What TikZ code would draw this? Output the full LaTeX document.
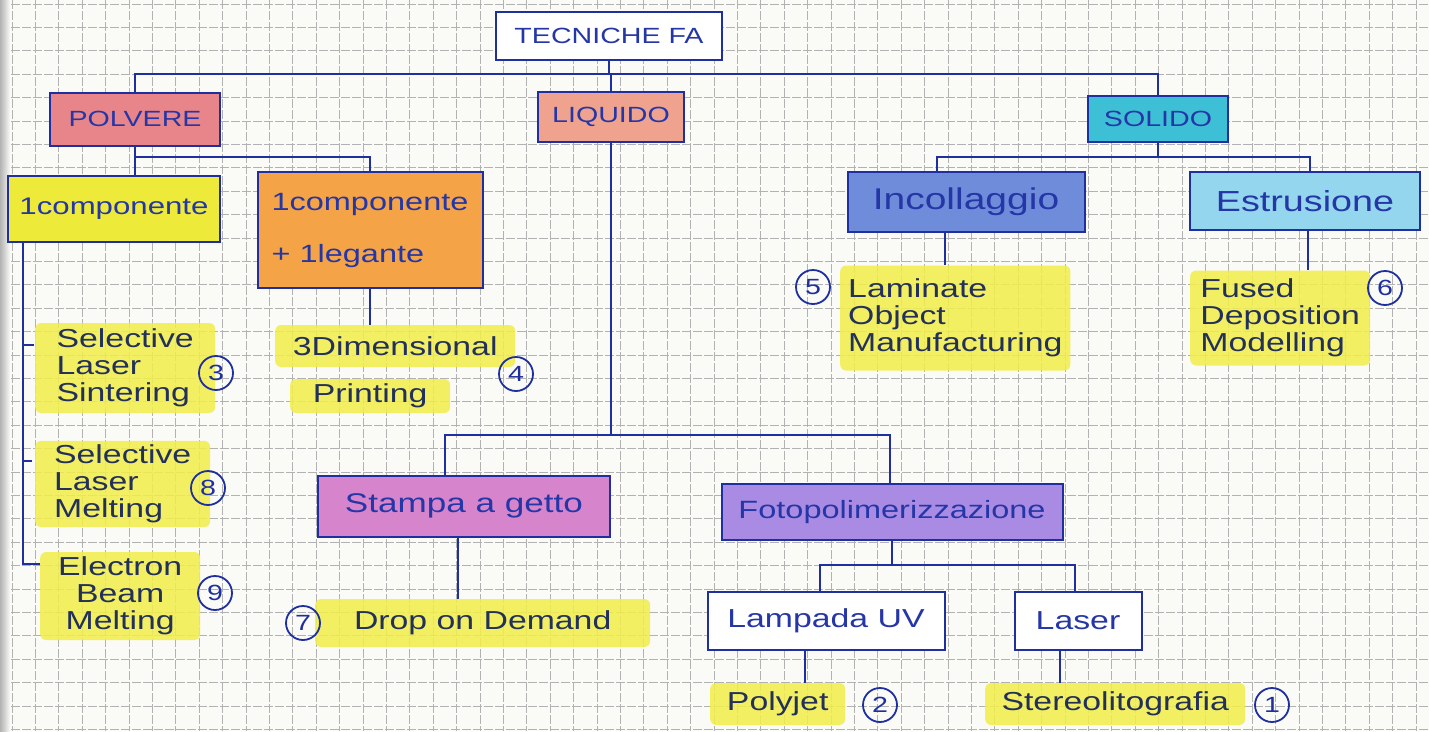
\documentclass[tikz,border=0pt]{standalone}
\usepackage{fontspec}
\setmainfont{Liberation Sans}[FakeStretch=1.3]
\definecolor{paper}{HTML}{FAFAF7}
\definecolor{gridc}{HTML}{B2B2B2}
\definecolor{inkblue}{HTML}{1F2FA0}
\definecolor{boxtext}{HTML}{2536A6}
\definecolor{noteink}{HTML}{22305A}
\definecolor{marker}{HTML}{F2EE4A}
\definecolor{cPol}{HTML}{E8858A}
\definecolor{cLiq}{HTML}{EFA28E}
\definecolor{cSol}{HTML}{3DBFD6}
\definecolor{cYel}{HTML}{EEEA3A}
\definecolor{cOra}{HTML}{F4A447}
\definecolor{cInc}{HTML}{6F8CDB}
\definecolor{cEst}{HTML}{93D6EE}
\definecolor{cSag}{HTML}{D685CD}
\definecolor{cFoto}{HTML}{A98BE4}
\begin{document}
\begin{tikzpicture}[x=1pt,y=-1pt,
  gridline/.style={draw=gridc, line width=0.8pt, dash pattern=on 9pt off 2pt},
  conn/.style={draw=inkblue, line width=2pt},
  box/.style={draw=inkblue, line width=2pt, text=boxtext, align=center, inner sep=0pt},
  hl/.style={fill=marker, fill opacity=0.85, text opacity=1, text=noteink, rounded corners=6pt,
    inner xsep=8pt, inner ysep=4pt, align=left, anchor=west, font=\fontsize{26}{27}\selectfont},
  num/.style={circle, draw=inkblue, line width=1.8pt, text=inkblue, minimum size=34pt,
    inner sep=0pt, font=\fontsize{22}{22}\selectfont},
]
\useasboundingbox (0,0) rectangle (1429,731);
% squared notebook paper
\fill[paper] (0,0) rectangle (1429,731);
\foreach \i in {0,...,61} \draw[gridline] (\i*23.4+12,0) -- (\i*23.4+12,731);
\foreach \k in {0,...,31} \draw[gridline] (0,\k*23.4+4) -- (1429,\k*23.4+4);
\shade[left color=black!30, right color=paper] (0,0) rectangle (10,731);

% boxes
\node[box, fill=white, minimum width=226pt, minimum height=48pt, font=\fontsize{22}{24}\selectfont] (tec) at (609,36) {TECNICHE FA};
\node[box, fill=cPol, minimum width=170pt, minimum height=53pt, font=\fontsize{22}{24}\selectfont] (pol) at (135,119) {POLVERE};
\node[box, fill=cLiq, minimum width=146pt, minimum height=50pt, font=\fontsize{22}{24}\selectfont] (liq) at (611,117) {LIQUIDO};
\node[box, fill=cSol, minimum width=140pt, minimum height=46pt, font=\fontsize{22}{24}\selectfont] (sol) at (1158,119) {SOLIDO};
\node[box, fill=cYel, minimum width=212pt, minimum height=66pt, font=\fontsize{24}{26}\selectfont] (c1) at (114,209) {1componente};
\node[box, fill=cOra, minimum width=225pt, minimum height=116pt, align=left, font=\fontsize{25}{52}\selectfont] (c1l) at (370,230) {1componente\\+ 1legante};
\node[box, fill=cInc, minimum width=237pt, minimum height=60pt, font=\fontsize{30}{32}\selectfont] (inc) at (966,202) {Incollaggio};
\node[box, fill=cEst, minimum width=230pt, minimum height=58pt, font=\fontsize{29}{31}\selectfont] (est) at (1305,201) {Estrusione};
\node[box, fill=cSag, minimum width=292pt, minimum height=61pt, font=\fontsize{27}{29}\selectfont] (sag) at (464,506) {Stampa a getto};
\node[box, fill=cFoto, minimum width=341pt, minimum height=56pt, font=\fontsize{25}{27}\selectfont] (foto) at (892,512) {Fotopolimerizzazione};
\node[box, fill=white, minimum width=237pt, minimum height=58pt, font=\fontsize{26}{28}\selectfont] (lamp) at (826,621) {Lampada UV};
\node[box, fill=white, minimum width=127pt, minimum height=58pt, font=\fontsize{26}{28}\selectfont] (las) at (1078,621) {Laser};

% highlighted technique names
\node[hl, minimum width=180pt, minimum height=90pt] (sls) at (35,368) {Selective\\Laser\\Sintering};
\node[hl, minimum width=175pt, minimum height=86pt] (slm) at (35,484) {Selective\\Laser\\Melting};
\node[hl, align=center, minimum width=160pt, minimum height=88pt] (ebm) at (40,596) {Electron\\Beam\\Melting};
\node[hl, minimum width=240pt, minimum height=42pt] (tdpa) at (275,346) {3Dimensional};
\node[hl, minimum width=160pt, minimum height=34pt] (tdpb) at (290,396) {Printing};
\node[hl, minimum width=225pt, minimum height=105pt] (lom) at (840,318) {Laminate\\Object\\Manufacturing};
\node[hl, minimum width=180pt, minimum height=95pt] (fdm) at (1190,318) {Fused\\Deposition\\Modelling};
\node[hl, minimum width=335pt, minimum height=48pt] (dod) at (315,623) {Drop on Demand};
\node[hl, minimum width=135pt, minimum height=42pt] (poly) at (710,704) {Polyjet};
\node[hl, minimum width=260pt, minimum height=42pt] (stereo) at (985,704) {Stereolitografia};

% circled numbers
\node[num] (n1) at (1272,705) {1};
\node[num] (n2) at (880,705) {2};
\node[num] (n3) at (216,373) {3};
\node[num] (n4) at (516,374) {4};
\node[num] (n5) at (813,287) {5};
\node[num] (n6) at (1385,288) {6};
\node[num] (n7) at (303,623) {7};
\node[num] (n8) at (208,488) {8};
\node[num] (n9) at (215,593) {9};

% bus levels
\coordinate (b0) at (0,74);
\coordinate (b1) at (0,157);
\coordinate (b2) at (0,157);
\coordinate (b3) at (0,435);
\coordinate (b4) at (0,565);

% top level
\draw[conn] (tec.south) -- (tec.south |- b0);
\draw[conn] (pol.north) |- (b0 -| sol.north) -- (sol.north);
\draw[conn] (liq.north) -- (liq.north |- b0);

% polvere
\draw[conn] (pol.south) -- (pol.south |- c1.north);
\draw[conn] (pol.south |- b1) -| (c1l.north);
\coordinate (brk) at ([xshift=16pt]c1.south west);
\coordinate (tk1) at ([yshift=-22pt]sls.north west);
\coordinate (tk2) at ([yshift=-20pt]slm.north west);
\coordinate (tk3) at ([yshift=-12pt]ebm.north west);
\draw[conn] (brk) |- (tk3);
\draw[conn] (brk |- tk1) -- ++(11,0);
\draw[conn] (brk |- tk2) -- ++(9,0);
\draw[conn] (c1l.south) -- (c1l.south |- tdpa.north);

% solido
\coordinate (incin) at ([xshift=-29pt]inc.north);
\coordinate (estin) at ([xshift=5pt]est.north);
\draw[conn] (sol.south) -- (sol.south |- b2);
\draw[conn] (incin) |- (b2 -| estin) -- (estin);
\coordinate (incout) at ([xshift=-21pt]inc.south);
\draw[conn] (incout) -- (incout |- lom.north);
\coordinate (estout) at ([xshift=3pt]est.south);
\draw[conn] (estout) -- (estout |- fdm.north);

% liquido
\draw[conn] (liq.south) -- (liq.south |- b3);
\coordinate (sagin) at ([xshift=-19pt]sag.north);
\coordinate (fotoin) at ([xshift=-2pt]foto.north);
\draw[conn] (sagin) |- (b3 -| fotoin) -- (fotoin);
\coordinate (sagout) at ([xshift=-6pt]sag.south);
\draw[conn] (sagout) -- (sagout |- dod.north);

% fotopolimerizzazione
\draw[conn] (foto.south) -- (foto.south |- b4);
\coordinate (lampin) at ([xshift=-6pt]lamp.north);
\coordinate (lasin) at ([xshift=-3pt]las.north);
\draw[conn] (lampin) |- (b4 -| lasin) -- (lasin);
\coordinate (lampout) at ([xshift=-21pt]lamp.south);
\draw[conn] (lampout) -- (lampout |- poly.north);
\coordinate (lasout) at ([xshift=-18pt]las.south);
\draw[conn] (lasout) -- (lasout |- stereo.north);
\end{tikzpicture}
\end{document}
